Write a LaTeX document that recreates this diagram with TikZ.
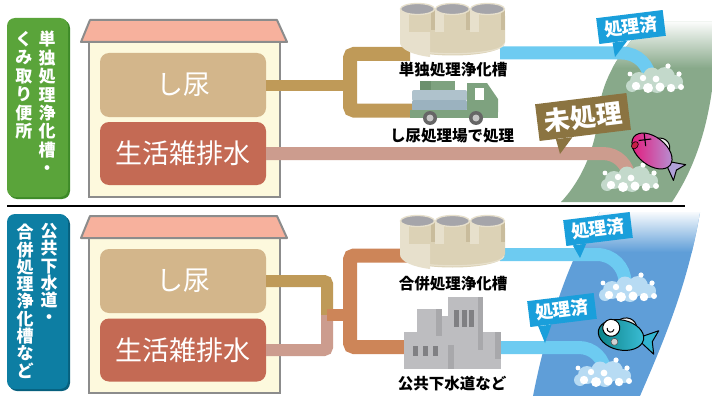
\documentclass[tikz,border=0pt]{standalone}
\usepackage{fontspec}
\setmainfont{Noto Sans CJK JP}
\usetikzlibrary{calc}

\definecolor{lgreen}{HTML}{5AA43A}
\definecolor{lgreenD}{HTML}{3E8A28}
\definecolor{lblue}{HTML}{0D7EA3}
\definecolor{lblueD}{HTML}{07607E}
\definecolor{roofc}{HTML}{F7B19D}
\definecolor{wallc}{HTML}{FDF9DD}
\definecolor{edgegray}{HTML}{8C8C8C}
\definecolor{urinec}{HTML}{D3B68B}
\definecolor{greyw}{HTML}{C46A54}
\definecolor{pipeU}{HTML}{BF9A58}
\definecolor{pipeG}{HTML}{CC9C8E}
\definecolor{pipeO}{HTML}{CD8558}
\definecolor{pipeB}{HTML}{6DCBF1}
\definecolor{tagB}{HTML}{1A9FDB}
\definecolor{tagO}{HTML}{8B7441}
\definecolor{riverG}{HTML}{88A98A}
\definecolor{riverB}{HTML}{5F9ED8}
\definecolor{bubG}{HTML}{C3D9CB}
\definecolor{bubB}{HTML}{B7DBF3}
\definecolor{tankA}{HTML}{DCD2B6}
\definecolor{tankL}{HTML}{E7E0CC}
\definecolor{tankD}{HTML}{C9BC9C}
\definecolor{tankTop}{HTML}{A5A5AA}
\definecolor{truckG}{HTML}{7EA27F}
\definecolor{truckGD}{HTML}{6C906D}
\definecolor{cargoA}{HTML}{AFC2CC}
\definecolor{cargoB}{HTML}{9BB2BF}
\definecolor{bldg}{HTML}{BDBDC0}
\definecolor{bldgD}{HTML}{A8A8AB}
\definecolor{bldgW}{HTML}{808083}

% three-cylinder purification tank, #1 = vertical offset
\newcommand\septictank[1]{%
\begin{scope}[shift={(400,#1)}]
  \fill[tankA] (0,16) -- (0,42) .. controls (0,60) and (105,60) .. (105,42) -- (105,16) -- cycle;
  \fill[tankL] (0,16) -- (0,42) .. controls (0,50) and (14,55) .. (30,57) -- (30,16) -- cycle;
  \draw[tankL, line width=1.2] (1,44) .. controls (4,57) and (101,57) .. (104,44);
  \foreach \i in {0,1,2}{
    \fill[tankA] (35*\i,9) rectangle (35*\i+35,32);
    \fill[tankL] (35*\i,9) rectangle (35*\i+9,32);
    \fill[tankD] (35*\i+31,11) rectangle (35*\i+35,30);
    \filldraw[fill=tankTop, draw=tankL, line width=1.3] (35*\i+17.5,9) ellipse [x radius=17, y radius=5.5];
  }
\end{scope}}

% cluster of foam bubbles, #1 = centre, #2 = pale colour
\newcommand\foamcluster[2]{%
\begin{scope}[shift={#1}]
  \fill[#2] (-16,2) circle (9) (-3,-3) circle (8.5) (10,-2) circle (10) (21,3) circle (7) (-23,7) circle (6) (2,6) circle (8);
  \fill[white] (-19,7) circle (4.2) (-7,9) circle (5) (5,8) circle (4.5) (16,9) circle (4.2) (-12,-1) circle (3.2)
     (1,0) circle (3.4) (24,-5) circle (2.6) (-25,-5) circle (2.4) (13,-13) circle (2.6) (26,8) circle (3);
\end{scope}}

\tikzset{
  catbox/.style={rounded corners=8pt, minimum width=61, minimum height=179, inner sep=0},
  coltext/.style={text=white, font=\bfseries\fontsize{17}{18.4}\selectfont, align=center, inner sep=0, anchor=north},
  housedge/.style={draw=edgegray, line width=2},
  srcbox/.style={rounded corners=9pt, minimum width=166, minimum height=63, text=white, inner sep=0,
                 font=\fontsize{27}{27}\selectfont},
  pipe/.style={line width=13},
  caption/.style={font=\bfseries\fontsize{15.5}{16}\selectfont, inner sep=0},
  tagbox/.style={fill=tagB, text=white, font=\bfseries\fontsize{18}{18}\selectfont, rotate=7,
                 minimum width=67, minimum height=26, inner sep=0},
  fishline/.style={draw=black, line width=1}
}

\begin{document}
\begin{tikzpicture}[x=1pt, y=-1pt]
\useasboundingbox (0,0) rectangle (712,396);
\fill[white] (0,0) rectangle (712,396);

% ---------- rivers ----------
\begin{scope}
  \path[clip] (648,22) .. controls (620,50) and (602,80) .. (599,110) .. controls (596,150) and (580,182) .. (561,202)
     -- (672,202) .. controls (690,175) and (705,140) .. (712,90) -- (712,22) -- cycle;
  \fill[riverG] (540,20) rectangle (712,205);
  \shade[top color=white, bottom color=riverG] (540,20) rectangle (712,68);
\end{scope}
\begin{scope}
  \path[clip] (600,212) .. controls (572,250) and (548,320) .. (533,396) -- (640,396)
     .. controls (662,345) and (688,285) .. (700,212) -- cycle;
  \fill[riverB] (520,210) rectangle (712,396);
  \shade[top color=white, bottom color=riverB] (520,210) rectangle (712,252);
\end{scope}

% ---------- category labels ----------
\fill[lgreenD, rounded corners=8pt] (9,20) rectangle (70,199);
\node[catbox, fill=lgreen] (cat1) at (37.5,107.5) {};
\node[coltext] (cat1a) at (47,31) {単\\独\\処\\理\\浄\\化\\槽\\・};
\node[coltext] (cat1b) at (24,31) {く\\み\\取\\り\\便\\所};

\fill[lblueD, rounded corners=8pt] (9,216) rectangle (70,391);
\node[catbox, fill=lblue, minimum height=175] (cat2) at (37.5,301.5) {};
\node[coltext, font=\bfseries\fontsize{17}{17.3}\selectfont] (cat2a) at (49,223) {公\\共\\下\\水\\道\\・};
\node[coltext, font=\bfseries\fontsize{17}{17.3}\selectfont] (cat2b) at (25,224) {合\\併\\処\\理\\浄\\化\\槽\\な\\ど};

\draw[line width=1.3] (7,206) -- (685,206);

% ---------- houses ----------
\foreach \dy in {0,196}{
  \draw[housedge, fill=wallc] (89,42+\dy) rectangle (280,197+\dy);
  \draw[housedge, fill=roofc, line join=round] (81,42+\dy) -- (90,20+\dy) -- (277,20+\dy) -- (287,42+\dy) -- cycle;
}
\node[srcbox, fill=urinec, minimum height=64] (u1) at (183,85) {し尿};
\node[srcbox, fill=greyw] (g1) at (183,153.5) {生活雑排水};
\node[srcbox, fill=urinec, minimum height=64] (u2) at (183,281) {し尿};
\node[srcbox, fill=greyw] (g2) at (183,350) {生活雑排水};

% ---------- upper section pipes ----------
\coordinate (tk1in) at (410,54);
\coordinate (trin) at (420,110.5);
\coordinate (tk1out) at (500,53);
\coordinate (riv1) at (650,80);
\coordinate (riv2) at (629,180);
\draw[pipeU, line width=11] (u1.east) -- (350,85);
\draw[pipeU, line width=14, rounded corners=4] (tk1in) -- (350,54) -- (350,110.5) -- (trin);
\draw[pipeB, pipe, rounded corners=28] (tk1out) -| (riv1);
\draw[pipeG, pipe, rounded corners=26] (g1.east) -| (riv2);

% ---------- lower section pipes ----------
\coordinate (tk2in) at (410,255.5);
\coordinate (fcin) at (410,347);
\coordinate (tk2out) at (500,254.5);
\coordinate (fcout) at (498,347.5);
\coordinate (riv3) at (625,282);
\coordinate (riv4) at (605,376);
\coordinate (jn) at (327,315);
\draw[pipeU, line width=12, rounded corners=3] (u2.east) -| (jn);
\draw[pipeG, line width=12, rounded corners=3] (g2.east) -| (jn);
\draw[pipeO, line width=12] (jn) -- (350,315);
\draw[pipeO, line width=14, rounded corners=4] (tk2in) -- (350,255.5) -- (350,347) -- (fcin);
\draw[pipeB, pipe, rounded corners=28] (tk2out) -| (riv3);
\draw[pipeB, pipe, rounded corners=26] (fcout) -| (riv4);

% ---------- foam ----------
\foamcluster{(655,79)}{bubG}
\foamcluster{(630,178)}{bubG}
\foamcluster{(628,288)}{bubB}
\foamcluster{(603,373)}{bubB}

% ---------- tanks ----------
\septictank{0}
\septictank{212}
\node[caption] (cap1) at (453,70) {単独処理浄化槽};
\node[caption] (cap3) at (453,284) {合併処理浄化槽};

% ---------- vacuum truck ----------
\fill[truckGD] (420,81) rectangle (431,91);
\fill[truckG] (431,81) rectangle (455,91);
\fill[cargoA, rounded corners=2] (412,90) rectangle (467,101);
\fill[cargoB, rounded corners=2] (412,100) rectangle (467,111);
\fill[truckG] (467,83) -- (487,83) -- (498,99) -- (498,112) -- (467,112) -- cycle;
\fill[white] (475,88) rectangle (484,100);
\fill[truckG] (410,110) rectangle (498,118);
\foreach \wx in {430,476}{
  \fill[gray!80!black] (\wx,118) circle (7);
  \fill[gray!45] (\wx,118) circle (3.5);
}
\node[caption] (cap2) at (452,136) {し尿処理場で処理};

% ---------- sewage plant ----------
\fill[bldg] (404,332) rectangle (501,369);
\fill[bldg] (417,309) rectangle (442,332);
\fill[bldg] (442,316) rectangle (448,332);
\fill[bldg] (448,297) rectangle (483,332);
\fill[bldgD] (436,309) rectangle (442,336);
\fill[bldgD] (478,297) rectangle (483,350);
\fill[bldgD] (495,332) rectangle (501,359);
\fill[bldgD] (448,345) rectangle (454,369);
\foreach \wx in {454,461.5,469}{\fill[bldgW] (\wx,310) rectangle (\wx+5,327);}
\foreach \wx in {413,423,433}{\fill[bldgW] (\wx,346) rectangle (\wx+5,356);}
\node[caption] (cap4) at (452,384) {公共下水道など};

% ---------- speech tags ----------
\node[tagbox] (tag1) at (631,27) {処理済};
\coordinate (tip1) at (615,57);
\fill[tagB] ($(tag1.south west)!0.2!(tag1.south east)$) -- (tip1) -- ($(tag1.south west)!0.42!(tag1.south east)$) -- cycle;

\node[tagbox, fill=tagO, font=\bfseries\fontsize{26}{26}\selectfont, minimum width=92, minimum height=37] (tag2) at (583,117) {未処理};
\coordinate (tip2) at (560,154);
\fill[tagO] ($(tag2.south west)!0.18!(tag2.south east)$) -- (tip2) -- ($(tag2.south west)!0.36!(tag2.south east)$) -- cycle;

\node[tagbox] (tag3) at (598,229) {処理済};
\coordinate (tip3) at (580,258);
\fill[tagB] ($(tag3.south west)!0.1!(tag3.south east)$) -- (tip3) -- ($(tag3.south west)!0.3!(tag3.south east)$) -- cycle;

\node[tagbox] (tag4) at (562,310) {処理済};
\coordinate (tip4) at (545,343);
\fill[tagB] ($(tag4.south west)!0.12!(tag4.south east)$) -- (tip4) -- ($(tag4.south west)!0.32!(tag4.south east)$) -- cycle;

% ---------- fish in polluted water ----------
\begin{scope}[shift={(652,151)}, rotate=-38]
  \filldraw[fill=white!85!gray, fishline] (-4,-13) .. controls (2,-20) and (12,-18) .. (14,-9) -- cycle;
  \filldraw[fill={rgb,255:red,176;green,160;blue,216}, fishline, line join=round]
     (16,0) -- (35,-10) -- (31,0) -- (35,10) -- cycle;
  \shade[left color={rgb,255:red,230;green,20;blue,120}, right color={rgb,255:red,180;green,150;blue,215}]
     (0,0) ellipse [x radius=23, y radius=14];
  \draw[fishline] (0,0) ellipse [x radius=23, y radius=14];
  \draw[line width=1.1] (-17,-9) -- (-8,0) (-17,0) -- (-8,-9);
  \filldraw[fill={rgb,255:red,200;green,30;blue,70}, fishline, line width=0.6] (-17,6) ellipse [x radius=3, y radius=4];
\end{scope}

% ---------- fish in clean water ----------
\begin{scope}[shift={(621,335)}, rotate=-12]
  \filldraw[fill=white!85!gray, fishline] (-6,-13) .. controls (0,-21) and (12,-19) .. (14,-10) -- cycle;
  \filldraw[fill={rgb,255:red,50;green,180;blue,208}, fishline, line join=round]
     (16,0) -- (36,-12) -- (32,0) -- (36,12) -- cycle;
  \shade[left color={rgb,255:red,10;green,130;blue,135}, right color={rgb,255:red,60;green,190;blue,215}]
     (0,0) ellipse [x radius=23, y radius=15];
  \draw[fishline] (0,0) ellipse [x radius=23, y radius=15];
  \filldraw[fill=white, fishline] (-11,-5) circle (8.5);
  \draw[line width=1] (-15,-4) arc[start angle=180, end angle=0, radius=3.5];
  \filldraw[fill=gray!35, draw=gray!70!black, line width=0.6] (-5,8) circle (3.5);
\end{scope}

\end{tikzpicture}
\end{document}
